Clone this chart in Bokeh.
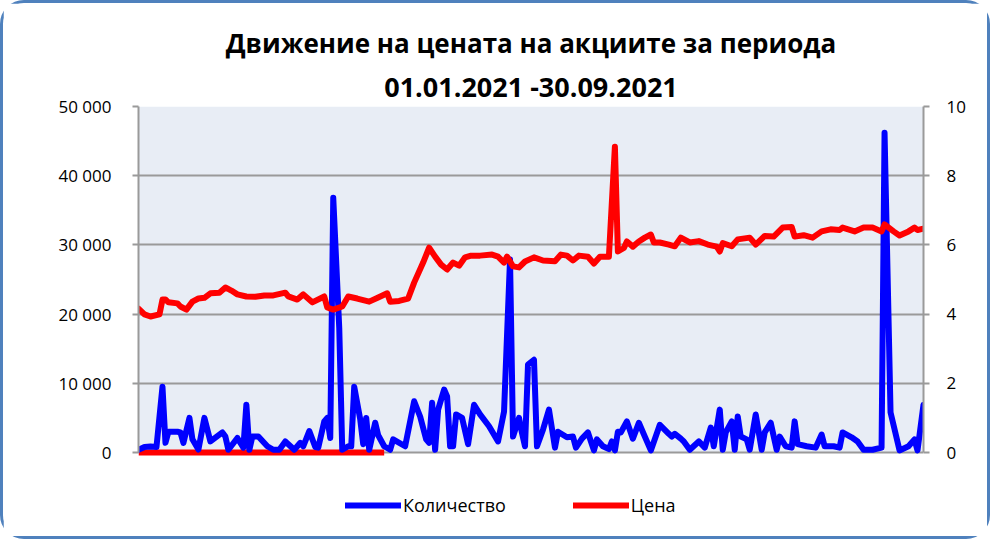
from bokeh.plotting import figure
from bokeh.models import Range1d, LinearAxis, Legend, LegendItem, Title, FixedTicker, BoxAnnotation
from bokeh.embed import file_html
from bokeh.resources import INLINE

title_line1 = "Движение на цената на акциите за периода"
title_line2 = "01.01.2021 -30.09.2021"
series_names = ["Количество", "Цена"]

# trading-day index (position along the period) and traded quantity
volume_days = [0, 2, 4, 6, 8, 9, 10, 13, 14, 15,
               17, 18, 20, 22, 24, 28, 29, 30, 33, 35,
               36, 37, 38, 40, 43, 45, 47, 49, 50, 52,
               54, 55, 57, 59, 60, 62, 63, 64, 65, 67,
               68, 70, 71, 72, 74, 75, 76, 77, 79, 80,
               82, 84, 85, 89, 92, 94, 96, 97, 98, 99,
               100, 102, 103, 104, 105, 106, 108, 110, 112, 114,
               117, 120, 122, 124, 125, 127, 128, 129, 130, 132,
               133, 135, 137, 139, 140, 143, 145, 146, 148, 150,
               152, 153, 155, 157, 158, 159, 160, 161, 163, 165,
               167, 169, 171, 174, 177, 178, 179, 181, 182, 184,
               187, 189, 191, 192, 194, 195, 196, 198, 199, 200,
               201, 203, 204, 206, 208, 209, 211, 213, 214, 216,
               218, 219, 220, 223, 226, 228, 229, 232, 234, 235,
               238, 240, 242, 245, 248, 249, 251, 254, 257, 259,
               260, 262]
volume = [400, 800, 870, 800, 9500, 1400, 3000, 3000, 2900, 1400,
          5000, 1900, 430, 5000, 1600, 2900, 2300, 400, 2100, 700,
          6900, 400, 2300, 2300, 900, 400, 400, 1600, 1200, 400,
          1400, 900, 3100, 800, 700, 4500, 5000, 2100, 36800, 18000,
          400, 900, 900, 9500, 4800, 1200, 5000, 400, 4300, 2500,
          900, 400, 1900, 900, 7400, 5200, 1900, 1400, 7200, 400,
          6200, 9100, 8100, 900, 900, 5500, 5000, 1200, 6900, 5500,
          3800, 1600, 5900, 27900, 2300, 5000, 2800, 900, 12700, 13400,
          900, 3300, 6200, 700, 3000, 2200, 2300, 700, 2000, 2900,
          300, 1900, 900, 500, 1600, 300, 3000, 2900, 4500, 2000,
          4300, 2300, 300, 4000, 2700, 2300, 2700, 2000, 1600, 400,
          1600, 700, 3600, 900, 6200, 400, 2900, 4500, 400, 5200,
          2300, 1900, 400, 5500, 400, 2900, 4300, 400, 2300, 900,
          700, 4500, 1200, 900, 700, 2600, 900, 900, 700, 2900,
          2200, 1600, 400, 400, 700, 46200, 5800, 300, 900, 1900,
          300, 6900]

price_days = [0, 2, 4, 7, 8, 9, 10, 13, 14, 16,
              18, 20, 22, 24, 27, 29, 31, 33, 36, 39,
              42, 45, 49, 50, 53, 55, 58, 62, 63, 65,
              68, 70, 73, 77, 80, 83, 84, 87, 90, 92,
              95, 97, 99, 101, 103, 105, 107, 109, 111, 114,
              118, 120, 122, 123, 125, 127, 129, 132, 135, 139,
              141, 143, 145, 147, 150, 152, 154, 157, 159, 160,
              162, 163, 165, 167, 169, 171, 172, 174, 177, 179,
              181, 184, 187, 190, 193, 194, 195, 198, 200, 204,
              206, 209, 212, 215, 218, 219, 222, 225, 228, 231,
              234, 235, 239, 242, 245, 248, 249, 252, 254, 257,
              259, 260, 262]
price = [4.16, 3.99, 3.93, 3.99, 4.42, 4.42, 4.34, 4.31, 4.22, 4.13,
         4.36, 4.45, 4.47, 4.60, 4.62, 4.77, 4.68, 4.57, 4.51, 4.50,
         4.54, 4.54, 4.62, 4.51, 4.42, 4.57, 4.34, 4.51, 4.19, 4.13,
         4.22, 4.51, 4.45, 4.36, 4.48, 4.60, 4.36, 4.38, 4.45, 4.91,
         5.49, 5.92, 5.66, 5.43, 5.29, 5.49, 5.40, 5.64, 5.69, 5.69,
         5.72, 5.66, 5.49, 5.66, 5.38, 5.35, 5.52, 5.64, 5.55, 5.53,
         5.72, 5.69, 5.55, 5.69, 5.66, 5.46, 5.66, 5.66, 8.84, 5.81,
         5.91, 6.10, 5.95, 6.10, 6.21, 6.30, 6.07, 6.07, 6.01, 5.96,
         6.21, 6.07, 6.11, 6.01, 5.95, 5.81, 6.05, 5.96, 6.16, 6.21,
         6.01, 6.26, 6.24, 6.50, 6.52, 6.24, 6.28, 6.21, 6.39, 6.45,
         6.43, 6.50, 6.39, 6.50, 6.50, 6.39, 6.59, 6.39, 6.27, 6.39,
         6.50, 6.43, 6.47]

# red series shown at zero on the quantity axis for the first part of the period
zero_days = [0, 82]
zero_values = [0, 0]

left_ticks = [0, 10000, 20000, 30000, 40000, 50000]
left_labels = ["0", "10 000", "20 000", "30 000", "40 000", "50 000"]
right_ticks = [0, 2, 4, 6, 8, 10]
right_labels = ["0", "2", "4", "6", "8", "10"]

FONT = "Open Sans"
BLUE = "#0000FF"
RED = "#FF0000"
GRID = "#9A9A9A"

# layout: the frame reaches down into the legend strip, the data area is its top part
PLOT_PX = 346
FRAME_PX = 430
LEFT_MAX, RIGHT_MAX = left_ticks[-1], right_ticks[-1]
left_low = -(FRAME_PX - PLOT_PX) / PLOT_PX * LEFT_MAX
right_low = -(FRAME_PX - PLOT_PX) / PLOT_PX * RIGHT_MAX

p = figure(frame_width=785, frame_height=FRAME_PX, output_backend="svg", toolbar_location=None,
           x_range=Range1d(0, 262), y_range=Range1d(left_low, LEFT_MAX),
           min_border_left=135, min_border_right=64, min_border_top=103, min_border_bottom=0)
p.styles = {"border": "3px solid #4F81BD", "border-radius": "24px"}
p.extra_y_ranges = {"price": Range1d(right_low, RIGHT_MAX)}
p.background_fill_color = "white"
p.border_fill_color = "white"
p.outline_line_color = None

plot_bg = BoxAnnotation(bottom=0, top=LEFT_MAX, fill_color="#E8EDF5", fill_alpha=1,
                        line_color=None, level="image")
p.add_layout(plot_bg)

# titles (added titles stack closer to the plot area)
p.title.text = title_line1
p.title.align = "center"
p.title.text_font = FONT
p.title.text_font_size = "26px"
p.title.text_font_style = "bold"
p.title.text_color = "black"
p.title.standoff = 6
t2 = Title(text=title_line2, align="center", text_font=FONT, text_font_size="27px",
           text_font_style="bold", text_color="black", standoff=4)
p.add_layout(t2, "above")

p.xaxis.visible = False
p.xgrid.visible = False

ya = p.yaxis[0]
ya.bounds = (0, LEFT_MAX)
ya.ticker = FixedTicker(ticks=left_ticks)
ya.major_label_overrides = dict(zip(left_ticks, left_labels))
ya.axis_line_color = GRID
ya.axis_line_width = 2
ya.major_tick_line_color = GRID
ya.major_tick_line_width = 2
ya.major_tick_out = 6
ya.major_tick_in = 0
ya.minor_tick_line_color = None
ya.major_label_text_font = FONT
ya.major_label_text_font_size = "17px"
ya.major_label_text_color = "black"
ya.major_label_standoff = 21

ra = LinearAxis(y_range_name="price", ticker=FixedTicker(ticks=right_ticks), bounds=(0, RIGHT_MAX))
ra.major_label_overrides = dict(zip(right_ticks, right_labels))
ra.axis_line_color = GRID
ra.axis_line_width = 2
ra.major_tick_line_color = GRID
ra.major_tick_line_width = 2
ra.major_tick_out = 6
ra.major_tick_in = 0
ra.minor_tick_line_color = None
ra.major_label_text_font = FONT
ra.major_label_text_font_size = "17px"
ra.major_label_text_color = "black"
ra.major_label_standoff = 17
p.add_layout(ra, "right")

p.ygrid.ticker = FixedTicker(ticks=left_ticks)
p.ygrid.grid_line_color = GRID
p.ygrid.grid_line_width = 2

p.line(zero_days, zero_values, line_color=RED, line_width=6)
r_vol = p.line(volume_days, volume, line_color=BLUE, line_width=6,
               line_join="round", line_cap="round")
r_price = p.line(price_days, price, y_range_name="price", line_color=RED, line_width=6,
                 line_join="round", line_cap="round")

legend = Legend(items=[LegendItem(label=series_names[0], renderers=[r_vol]),
                       LegendItem(label=series_names[1], renderers=[r_price])],
                orientation="horizontal", location=(207, 19),
                glyph_width=56, glyph_height=22, label_standoff=2, spacing=67,
                padding=0, margin=0, border_line_color=None, background_fill_alpha=0,
                label_text_font=FONT, label_text_font_size="18px", label_text_color="black")
p.add_layout(legend, "center")

open("out.html", "w").write(file_html(p, INLINE))
